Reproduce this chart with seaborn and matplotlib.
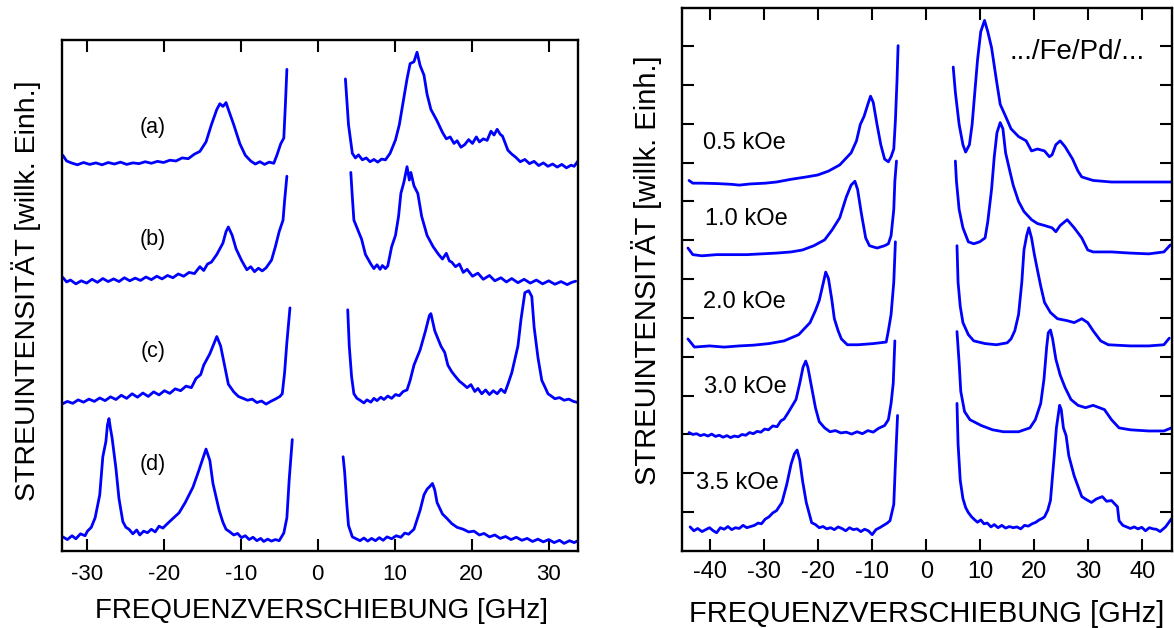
import numpy as np
import pandas as pd
import matplotlib
matplotlib.use("Agg")
import matplotlib.pyplot as plt
import seaborn as sns

# ---------------- left panel: spectra (a)-(d), frequency in GHz, stacked intensity (arb. units)
a_neg_f = [-33.1, -32.6, -32.0, -31.2, -30.4, -29.6, -28.8, -28.0, -27.2, -26.4, -25.6, -24.8, -24.0, -23.2,
           -22.4, -21.6, -20.8, -20.0, -19.2, -18.4, -17.6, -16.8, -16.0, -15.3, -14.5, -13.8, -13.1, -12.7,
           -12.3, -11.9, -11.6, -10.9, -10.1, -9.4, -8.7, -8.1, -7.5, -6.9, -6.3, -5.7, -5.3, -4.8, -4.4,
           -4.2, -4.0]
a_neg_i = [1037, 1022, 1017, 1012, 1018, 1013, 1017, 1012, 1018, 1014, 1019, 1013, 1017, 1015,
           1020, 1016, 1021, 1018, 1024, 1022, 1030, 1028, 1040, 1047, 1072, 1117, 1157, 1172,
           1165, 1175, 1157, 1117, 1067, 1037, 1022, 1014, 1020, 1013, 1019, 1016, 1037, 1067, 1082,
           1167, 1262]
a_pos_f = [3.6, 4.0, 4.5, 4.9, 5.3, 5.8, 6.3, 6.8, 7.3, 7.8, 8.3, 8.8, 9.4, 10.1, 10.6, 11.1, 11.6, 12.0,
           12.5, 12.9, 13.3, 13.8, 14.2, 14.7, 15.5, 16.2, 16.7, 17.2, 17.7, 18.1, 18.6, 19.1, 19.6, 20.1,
           20.6, 21.0, 21.5, 22.0, 22.5, 22.9, 23.3, 23.7, 24.0, 24.7, 25.2, 25.7, 26.3, 26.9, 27.5, 28.1,
           28.7, 29.3, 29.9, 30.5, 31.1, 31.7, 32.3, 32.9, 33.3, 33.8]
a_pos_i = [1237, 1117, 1042, 1030, 1038, 1025, 1030, 1020, 1026, 1019, 1027, 1025, 1042, 1077, 1117, 1177,
           1237, 1277, 1282, 1307, 1272, 1247, 1197, 1157, 1127, 1097, 1080, 1085, 1068, 1075, 1058, 1065,
           1078, 1068, 1085, 1072, 1080, 1076, 1100, 1090, 1105, 1092, 1087, 1050, 1040, 1032, 1020, 1026,
           1015, 1021, 1010, 1017, 1008, 1014, 1006, 1013, 1004, 1011, 1008, 1022]

b_neg_f = [-33.1, -32.6, -32.1, -31.4, -30.7, -30.0, -29.3, -28.6, -27.9, -27.2, -26.5, -25.8, -25.1, -24.4,
           -23.7, -23.0, -22.3, -21.6, -20.9, -20.2, -19.5, -18.8, -18.1, -17.4, -16.7, -16.0, -15.3, -14.8,
           -14.3, -13.8, -13.1, -12.3, -11.9, -11.6, -11.1, -10.6, -9.9, -9.2, -8.7, -8.2, -7.7, -7.2, -6.7,
           -6.0, -5.5, -5.0, -4.5, -4.3, -4.0]
b_neg_i = [717, 705, 710, 700, 708, 702, 712, 704, 714, 706, 713, 706, 716, 708,
           715, 709, 718, 711, 720, 713, 722, 716, 726, 720, 730, 727, 745, 735,
           752, 757, 777, 807, 837, 849, 827, 792, 762, 737, 745, 732, 741, 734, 742,
           762, 797, 837, 867, 917, 982]
b_pos_f = [4.3, 4.5, 4.7, 5.2, 5.7, 6.2, 6.9, 7.3, 7.7, 8.1, 8.4, 8.8, 9.1, 9.6, 10.1, 10.5, 10.8, 11.2,
           11.6, 11.9, 12.1, 12.5, 13.0, 13.5, 14.2, 15.0, 15.7, 16.2, 16.7, 17.1, 17.4, 17.9, 18.4, 18.9,
           19.4, 20.1, 20.8, 21.5, 22.3, 23.0, 23.8, 24.5, 25.2, 26.0, 26.8, 27.6, 28.4, 29.2, 30.0, 30.8,
           31.6, 32.4, 33.0, 33.5]
b_pos_i = [992, 927, 867, 842, 817, 777, 752, 740, 750, 738, 748, 740, 747, 797, 827, 877, 937, 967,
           1007, 972, 992, 957, 937, 877, 827, 797, 777, 765, 780, 760, 757, 745, 752, 730,
           738, 720, 728, 712, 722, 708, 716, 705, 714, 703, 712, 702, 710, 700, 708, 699,
           706, 698, 704, 707]

c_neg_f = [-33.2, -32.5, -31.8, -31.1, -30.4, -29.7, -29.0, -28.3, -27.6, -26.9, -26.2, -25.5, -24.8, -24.1,
           -23.4, -22.7, -22.0, -21.3, -20.6, -19.9, -19.2, -18.5, -17.8, -17.1, -16.4, -15.8, -15.2, -14.8,
           -14.0, -13.3, -13.1, -12.6, -12.1, -11.6, -10.9, -10.3, -9.7, -9.1, -8.5, -7.9, -7.3, -6.7, -6.1,
           -5.5, -4.9, -4.6, -4.3, -4.0, -3.6]
c_neg_i = [385, 392, 387, 396, 390, 398, 392, 401, 394, 404, 397, 408, 400, 412,
           403, 414, 405, 417, 409, 420, 413, 425, 420, 432, 428, 452, 462, 487,
           517, 552, 562, 537, 487, 437, 417, 405, 400, 395, 398, 389, 393, 385, 392,
           398, 405, 412, 467, 547, 637]
c_pos_f = [3.9, 4.1, 4.4, 4.7, 5.1, 5.5, 6.0, 6.4, 6.9, 7.3, 7.7, 8.2, 8.6, 9.1, 9.6, 10.1, 10.6, 11.1,
           11.6, 12.0, 12.5, 13.3, 14.0, 14.5, 14.7, 15.2, 16.0, 16.5, 16.9, 17.4, 17.9, 18.4, 18.9, 19.4,
           19.9, 20.4, 20.8, 21.3, 21.8, 22.3, 22.8, 23.3, 23.8, 24.3, 24.7, 25.2, 26.0, 26.4, 26.9, 27.4,
           27.8, 28.1, 28.6, 29.1, 29.5, 29.9, 30.4, 30.8, 31.4, 32.0, 32.6, 33.2, 33.8]
c_pos_i = [632, 537, 457, 412, 400, 395, 388, 396, 390, 400, 394, 403, 397, 406, 400, 410, 407, 418,
           422, 447, 487, 527, 577, 617, 622, 577, 537, 520, 487, 470, 457, 445, 437, 428,
           436, 418, 426, 412, 422, 410, 420, 412, 424, 415, 437, 467, 537, 607, 677, 682,
           667, 587, 507, 447, 430, 412, 405, 399, 402, 395, 398, 392, 389]

d_neg_f = [-33.1, -32.5, -31.9, -31.4, -30.8, -30.2, -29.9, -29.4, -28.9, -28.3, -27.9, -27.5, -27.3, -27.1,
           -26.9, -26.7, -26.2, -25.8, -25.3, -24.9, -24.5, -24.0, -23.5, -23.1, -22.6, -22.1, -21.6, -21.1,
           -20.6, -20.1, -19.5, -18.7, -18.0, -17.2, -16.2, -15.5, -15.0, -14.5, -14.0, -13.6, -12.8, -12.3,
           -11.9, -11.4, -10.9, -10.4, -9.9, -9.4, -8.9, -8.4, -7.9, -7.4, -7.0, -6.5, -6.0, -5.5, -5.0,
           -4.4, -4.0, -3.7, -3.3]
d_neg_i = [37, 30, 40, 32, 45, 40, 52, 62, 87, 147, 247, 287, 330, 347,
           320, 297, 217, 137, 77, 62, 57, 45, 55, 42, 52, 48, 57, 50,
           65, 60, 72, 87, 100, 127, 167, 207, 237, 267, 237, 177, 107, 75,
           57, 50, 42, 46, 35, 40, 30, 36, 27, 33, 25, 31, 26, 30, 27,
           47, 87, 187, 292]
d_pos_f = [3.3, 3.5, 3.8, 4.0, 4.5, 5.0, 5.5, 6.0, 6.5, 7.0, 7.5, 8.0, 8.5, 9.0, 9.6, 10.2, 10.8, 11.3,
           11.8, 12.5, 13.3, 13.8, 14.2, 14.6, 14.9, 15.2, 15.5, 16.2, 16.8, 17.4, 18.1, 18.9, 19.6, 20.3,
           21.0, 21.6, 22.3, 23.0, 23.7, 24.4, 25.1, 25.8, 26.5, 27.2, 27.9, 28.6, 29.3, 30.0, 30.7, 31.4,
           32.0, 32.7, 33.3, 33.8]
d_pos_i = [247, 207, 117, 67, 37, 32, 27, 34, 26, 33, 27, 35, 28, 37, 32, 40, 36, 47,
           44, 57, 107, 147, 162, 170, 177, 160, 127, 97, 85, 72, 62, 57, 50, 52,
           42, 46, 37, 42, 33, 38, 30, 36, 28, 33, 25, 31, 24, 30, 22, 28,
           20, 27, 22, 27]

left_labels = ["(a)", "(b)", "(c)", "(d)"]
left_label_y = [1109, 815, 522, 227]

# ---------------- right panel: field series, frequency in GHz, stacked intensity (tick units)
h05_neg_f = [-43.9, -43.2, -41.5, -38.8, -36.0, -34.6, -32.6, -29.8, -27.7, -25.0, -22.2, -20.1, -18.1, -16.0,
             -13.9, -12.9, -12.2, -11.5, -10.8, -10.3, -9.8, -9.1, -8.4, -7.7, -7.0, -6.5, -6.0, -5.7, -5.4, -5.2]
h05_neg_i = [9.54, 9.47, 9.47, 9.46, 9.44, 9.42, 9.45, 9.47, 9.50, 9.57, 9.63, 9.68, 9.78, 9.94,
             10.25, 10.56, 10.98, 11.19, 11.50, 11.71, 11.55, 10.98, 10.46, 10.09, 10.02, 10.15, 10.35, 11.08, 12.12, 13.01]
h05_pos_f = [5.0, 5.4, 6.1, 6.8, 7.3, 8.0, 8.5, 9.0, 9.5, 10.1, 10.8, 11.4, 12.1, 13.0, 13.7, 14.7, 15.7,
             17.1, 18.5, 19.5, 20.6, 21.9, 22.8, 23.3, 24.0, 24.8, 25.7, 27.1, 28.1, 28.8, 30.9, 34.3,
             37.8, 41.2, 43.3, 45.4]
h05_pos_i = [12.46, 11.81, 10.98, 10.46, 10.27, 10.46, 10.98, 11.81, 12.64, 13.37, 13.66, 13.37, 12.96, 12.12,
             11.50, 11.19, 10.87, 10.67, 10.56, 10.30, 10.35, 10.30, 10.15, 10.20, 10.46, 10.56, 10.41,
             10.09, 9.78, 9.63, 9.54, 9.50, 9.50, 9.50, 9.50, 9.50]

h10_neg_f = [-44.1, -43.2, -41.5, -38.8, -36.0, -33.2, -30.5, -27.7, -25.0, -22.9, -20.8, -18.8, -17.4, -16.0,
             -14.8, -13.9, -13.2, -12.7, -12.0, -11.2, -10.5, -9.1, -7.7, -7.0, -6.5, -6.0, -5.8, -5.5]
h10_neg_i = [7.80, 7.63, 7.60, 7.63, 7.63, 7.63, 7.65, 7.67, 7.70, 7.75, 7.86, 8.01, 8.27, 8.58,
             9.11, 9.42, 9.52, 9.31, 8.69, 8.06, 7.86, 7.80, 7.86, 7.91, 8.12, 8.79, 9.52, 10.04]
h10_pos_f = [5.4, 5.6, 6.1, 6.8, 7.8, 8.8, 9.9, 10.9, 11.4, 12.1, 12.6, 13.1, 13.7, 14.2, 14.7, 15.4, 16.1,
             17.1, 18.1, 19.5, 20.6, 21.9, 23.3, 24.0, 24.8, 26.1, 27.4, 28.8, 29.9, 30.9, 34.3, 37.8,
             41.2, 44.0, 45.2]
h10_pos_i = [10.04, 9.52, 8.79, 8.32, 7.96, 7.91, 7.96, 8.06, 8.48, 9.31, 10.15, 10.77, 11.03, 10.87, 10.25,
             9.83, 9.42, 9.00, 8.74, 8.53, 8.43, 8.38, 8.32, 8.22, 8.38, 8.53, 8.32, 8.06, 7.75, 7.70,
             7.70, 7.67, 7.65, 7.70, 7.88]

h20_neg_f = [-44.1, -42.9, -40.1, -37.4, -34.6, -31.9, -29.1, -26.3, -23.6, -21.5, -20.5, -19.8, -19.1, -18.6,
             -18.1, -17.5, -17.0, -16.3, -15.7, -14.6, -12.6, -9.8, -7.4, -7.0, -6.5, -6.0, -5.7]
h20_neg_i = [5.46, 5.25, 5.28, 5.25, 5.28, 5.30, 5.34, 5.41, 5.57, 5.88, 6.19, 6.45, 6.87, 7.18,
             7.02, 6.50, 5.98, 5.67, 5.46, 5.31, 5.31, 5.34, 5.38, 5.67, 6.09, 6.92, 7.96]
h20_pos_f = [5.7, 5.9, 6.3, 6.8, 7.8, 8.8, 10.9, 13.0, 15.0, 15.7, 16.4, 17.1, 17.7, 18.1, 18.6, 19.0, 19.5,
             20.0, 20.6, 21.2, 21.9, 23.0, 24.3, 26.1, 27.4, 28.8, 29.9, 30.9, 32.3, 33.7, 37.8, 41.2,
             44.0, 45.0]
h20_pos_i = [7.86, 6.92, 6.30, 5.88, 5.57, 5.41, 5.34, 5.31, 5.36, 5.46, 5.67, 6.09, 6.92, 7.75, 8.12, 8.32,
             8.06, 7.65, 7.23, 6.82, 6.40, 6.14, 5.98, 5.93, 5.88, 5.98, 5.88, 5.67, 5.41, 5.31, 5.28,
             5.28, 5.31, 5.48]

h30_neg_f = [-43.9, -43.2, -42.5, -41.8, -41.1, -40.4, -39.7, -39.0, -38.3, -37.6, -36.9, -36.2, -35.5, -34.8,
             -34.1, -33.4, -32.7, -32.0, -31.3, -30.6, -29.9, -29.2, -28.4, -27.6, -26.9, -26.3, -25.6, -25.0,
             -24.1, -23.4, -22.8, -22.3, -21.9, -21.2, -20.5, -19.8, -18.8, -17.8, -16.8, -15.8, -14.8, -13.8,
             -12.8, -11.8, -10.8, -9.8, -8.8, -7.7, -7.0, -6.5, -6.1, -5.8]
h30_neg_i = [3.05, 3.00, 3.02, 2.97, 3.00, 2.96, 3.01, 2.95, 2.98, 2.93, 2.97, 2.92, 2.96, 2.94,
             3.00, 2.98, 3.05, 3.02, 3.08, 3.06, 3.14, 3.12, 3.22, 3.20, 3.35, 3.40, 3.55, 3.69,
             3.90, 4.32, 4.73, 4.89, 4.73, 4.21, 3.69, 3.33, 3.17, 3.07, 3.10, 3.04, 3.06, 3.01,
             3.07, 3.02, 3.10, 3.06, 3.16, 3.23, 3.38, 3.80, 4.32, 5.41]
h30_pos_f = [5.7, 6.1, 6.4, 7.1, 8.1, 10.2, 12.3, 14.3, 17.1, 19.2, 20.2, 21.2, 21.8, 22.3, 22.6, 23.0, 23.4,
             24.0, 24.8, 25.7, 26.8, 28.1, 29.5, 30.9, 33.0, 34.3, 35.7, 37.8, 41.2, 44.0, 45.4]
h30_pos_i = [5.65, 4.84, 4.11, 3.59, 3.38, 3.23, 3.12, 3.07, 3.07, 3.17, 3.38, 3.80, 4.42, 5.25, 5.62, 5.69,
             5.46, 4.94, 4.53, 4.21, 3.90, 3.75, 3.69, 3.75, 3.64, 3.38, 3.17, 3.12, 3.09, 3.09, 3.17]

h35_neg_f = [-43.7, -43.0, -42.3, -41.5, -40.8, -40.1, -39.4, -38.8, -38.1, -37.4, -36.7, -36.0, -35.3, -34.6,
             -33.9, -33.2, -32.5, -31.8, -31.1, -30.5, -29.8, -29.1, -28.4, -27.7, -26.7, -25.8, -25.0, -24.4,
             -23.9, -23.4, -22.9, -22.2, -21.2, -20.5, -19.8, -19.1, -18.4, -17.7, -17.0, -16.3, -15.6, -14.9,
             -14.2, -13.5, -12.8, -12.1, -11.4, -10.7, -10.0, -9.3, -8.6, -7.9, -7.2, -6.7, -6.0, -5.7, -5.3]
h35_neg_i = [0.62, 0.52, 0.58, 0.50, 0.55, 0.60, 0.52, 0.47, 0.60, 0.56, 0.63, 0.55, 0.60, 0.58,
             0.66, 0.60, 0.63, 0.66, 0.72, 0.70, 0.82, 0.88, 0.98, 1.04, 1.25, 1.72, 2.24, 2.50,
             2.60, 2.34, 1.82, 1.25, 0.73, 0.68, 0.60, 0.63, 0.57, 0.60, 0.55, 0.62, 0.58, 0.52,
             0.60, 0.55, 0.57, 0.50, 0.56, 0.52, 0.42, 0.55, 0.60, 0.66, 0.72, 0.78, 1.20, 2.24, 3.49]
h35_pos_f = [5.7, 5.9, 6.3, 6.8, 7.3, 7.8, 8.4, 9.0, 9.5, 10.1, 10.7, 11.3, 12.0, 12.6, 13.3, 14.0, 14.7,
             15.4, 16.1, 16.8, 17.5, 18.2, 18.9, 19.6, 20.3, 20.9, 21.5, 21.9, 22.5, 23.0, 23.7, 24.1, 24.7,
             25.0, 25.4, 25.9, 26.4, 27.4, 28.8, 29.7, 30.6, 31.5, 32.6, 33.4, 34.3, 35.4, 35.7, 36.4, 37.1,
             37.8, 38.5, 39.2, 39.9, 40.6, 41.3, 42.0, 42.6, 43.3, 44.3, 45.4]
h35_pos_i = [3.80, 2.76, 1.82, 1.35, 1.12, 0.99, 0.88, 0.80, 0.74, 0.80, 0.70, 0.72, 0.62, 0.68, 0.60, 0.66,
             0.59, 0.63, 0.60, 0.62, 0.57, 0.66, 0.64, 0.70, 0.74, 0.80, 0.84, 0.88, 1.05, 1.30, 2.45, 3.17,
             3.75, 3.64, 3.17, 2.97, 2.45, 1.93, 1.40, 1.32, 1.25, 1.34, 1.40, 1.28, 1.30, 1.14, 0.78, 0.66,
             0.62, 0.58, 0.62, 0.57, 0.61, 0.52, 0.60, 0.57, 0.56, 0.50, 0.62, 0.83]

right_labels = ["0.5 kOe", "1.0 kOe", "2.0 kOe", "3.0 kOe", "3.5 kOe"]
right_label_f = [-41.4, -40.9, -41.3, -41.1, -42.6]
right_label_y = [10.50, 8.55, 6.41, 4.22, 1.75]
sample_label = ".../Fe/Pd/..."

left_ticks = [-30, -20, -10, 0, 10, 20, 30]
right_ticks = [-40, -30, -20, -10, 0, 10, 20, 30, 40]
right_yticks = list(range(1, 14))

xlabel = "FREQUENZVERSCHIEBUNG [GHz]"
ylabel = "STREUINTENSITÄT [willk. Einh.]"


def frame(traces):
    rows = []
    for name, f, i in traces:
        rows.append(pd.DataFrame({"f": f, "I": i, "trace": name}))
    return pd.concat(rows, ignore_index=True)


left_df = frame([
    ("a-", a_neg_f, a_neg_i), ("a+", a_pos_f, a_pos_i),
    ("b-", b_neg_f, b_neg_i), ("b+", b_pos_f, b_pos_i),
    ("c-", c_neg_f, c_neg_i), ("c+", c_pos_f, c_pos_i),
    ("d-", d_neg_f, d_neg_i), ("d+", d_pos_f, d_pos_i),
])
right_df = frame([
    ("05-", h05_neg_f, h05_neg_i), ("05+", h05_pos_f, h05_pos_i),
    ("10-", h10_neg_f, h10_neg_i), ("10+", h10_pos_f, h10_pos_i),
    ("20-", h20_neg_f, h20_neg_i), ("20+", h20_pos_f, h20_pos_i),
    ("30-", h30_neg_f, h30_neg_i), ("30+", h30_pos_f, h30_pos_i),
    ("35-", h35_neg_f, h35_neg_i), ("35+", h35_pos_f, h35_pos_i),
])

sns.set_style("white")
plt.rcParams["font.family"] = ["Liberation Sans", "DejaVu Sans"]
plt.rcParams["axes.unicode_minus"] = False
plt.rcParams["text.color"] = "black"
plt.rcParams["axes.labelcolor"] = "black"
plt.rcParams["xtick.color"] = "black"
plt.rcParams["ytick.color"] = "black"

fig = plt.figure(figsize=(11.74, 6.28), dpi=100)
axL = fig.add_axes([62 / 1174, 1 - 551 / 628, 516 / 1174, 511 / 628])
axR = fig.add_axes([682 / 1174, 1 - 551 / 628, 490 / 1174, 543 / 628])

blue = "#0000ff"
sns.lineplot(data=left_df, x="f", y="I", units="trace", estimator=None, sort=False,
             color=blue, lw=2.0, ax=axL, legend=False)
sns.lineplot(data=right_df, x="f", y="I", units="trace", estimator=None, sort=False,
             color=blue, lw=2.0, ax=axR, legend=False)

for ax in (axL, axR):
    for sp in ax.spines.values():
        sp.set_visible(True)
        sp.set_linewidth(1.7)
        sp.set_color("black")

# left axes
axL.set_xlim(-33.2, 33.8)
axL.set_ylim(0, 1339)
axL.set_xticks(left_ticks)
axL.set_xticklabels([str(t) for t in left_ticks])
axL.set_yticks([])
axL.tick_params(axis="x", direction="in", top=True, bottom=True, length=8.5, width=1.5,
                labelsize=16, pad=9, colors="black")
axL.set_xlabel(xlabel, fontsize=20, va="center", color="black")
axL.xaxis.set_label_coords(0.502, -0.117)
axL.set_ylabel(ylabel, fontsize=20.5, va="center", color="black")
axL.yaxis.set_label_coords(-0.07, 0.51)
for lab, yv in zip(left_labels, left_label_y):
    axL.text(-21.4, yv, lab, fontsize=15.5, ha="center", va="center", color="black")

# right axes
axR.set_xlim(-45.2, 45.5)
axR.set_ylim(0, 13.98)
axR.set_xticks(right_ticks)
axR.set_xticklabels([str(t) for t in right_ticks])
axR.set_yticks(right_yticks)
axR.set_yticklabels([])
axR.tick_params(axis="x", direction="in", top=True, bottom=True, length=8.5, width=1.5,
                labelsize=17, pad=7, colors="black")
axR.tick_params(axis="y", direction="in", left=True, right=True, length=8.5, width=1.5)
axR.set_xlabel(xlabel, fontsize=21, va="center", color="black")
axR.xaxis.set_label_coords(0.5, -0.116)
axR.set_ylabel(ylabel, fontsize=21, va="center", color="black")
axR.yaxis.set_label_coords(-0.073, 0.517)
for lab, xv, yv in zip(right_labels, right_label_f, right_label_y):
    axR.text(xv, yv, lab, fontsize=17, ha="left", va="center", color="black")
axR.text(15.4, 12.86, sample_label, fontsize=20, ha="left", va="center", color="black")

fig.savefig("out.png", dpi=100)
